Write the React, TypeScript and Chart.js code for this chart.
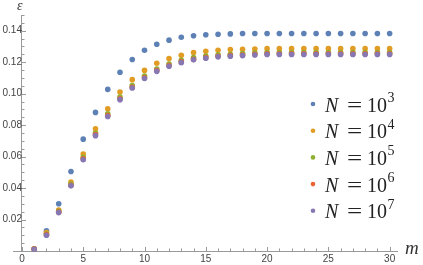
import React, { useEffect, useRef } from 'react';
import { Chart, registerables } from 'chart.js';

Chart.register(...registerables);

// ---- data ----
const mValues = [1, 2, 3, 4, 5, 6, 7, 8, 9, 10, 11, 12, 13, 14, 15, 16, 17, 18, 19, 20, 21, 22, 23, 24, 25, 26, 27, 28, 29, 30];

const epsN1e3 = [0.0014, 0.0129, 0.0300, 0.0505, 0.0711, 0.0881, 0.1027, 0.1136, 0.1217, 0.1276, 0.1314, 0.1340, 0.1359, 0.1368, 0.1374, 0.1378, 0.1380, 0.1382, 0.1382, 0.1382, 0.1382, 0.1382, 0.1382, 0.1382, 0.1382, 0.1382, 0.1382, 0.1382, 0.1382, 0.1382];
const epsN1e4 = [0.0013, 0.0117, 0.0261, 0.0439, 0.0616, 0.0777, 0.0904, 0.1011, 0.1089, 0.1148, 0.1193, 0.1223, 0.1244, 0.1261, 0.1270, 0.1276, 0.1280, 0.1282, 0.1284, 0.1286, 0.1286, 0.1286, 0.1286, 0.1286, 0.1286, 0.1286, 0.1286, 0.1286, 0.1286, 0.1286];
const epsN1e5 = [0.0012, 0.0108, 0.0252, 0.0425, 0.0595, 0.0750, 0.0872, 0.0978, 0.1052, 0.1112, 0.1157, 0.1189, 0.1212, 0.1229, 0.1239, 0.1247, 0.1251, 0.1255, 0.1259, 0.1261, 0.1261, 0.1261, 0.1261, 0.1261, 0.1261, 0.1261, 0.1261, 0.1261, 0.1261, 0.1261];
const epsN1e6 = [0.0012, 0.0104, 0.0247, 0.0418, 0.0586, 0.0740, 0.0861, 0.0967, 0.1041, 0.1101, 0.1147, 0.1179, 0.1202, 0.1219, 0.1229, 0.1238, 0.1242, 0.1246, 0.1250, 0.1253, 0.1253, 0.1253, 0.1253, 0.1253, 0.1253, 0.1253, 0.1253, 0.1253, 0.1253, 0.1253];
const epsN1e7 = [0.0011, 0.0100, 0.0244, 0.0414, 0.0580, 0.0733, 0.0855, 0.0962, 0.1036, 0.1096, 0.1142, 0.1174, 0.1197, 0.1215, 0.1225, 0.1234, 0.1238, 0.1242, 0.1246, 0.1249, 0.1249, 0.1249, 0.1249, 0.1249, 0.1249, 0.1249, 0.1249, 0.1249, 0.1249, 0.1249];

const seriesExponents = ['3', '4', '5', '6', '7'];
const seriesColors = ['#5E81B5', '#E19C24', '#8FB032', '#EB6235', '#8778B3'];
const seriesValues = [epsN1e3, epsN1e4, epsN1e5, epsN1e6, epsN1e7];

const xTickValues = [0, 5, 10, 15, 20, 25, 30];
const yTickValues = [0.02, 0.04, 0.06, 0.08, 0.1, 0.12, 0.14];
const xMinorStep = 1;
const yMinorStep = 0.005;

const xLabel = 'm';
const yLabel = 'ε';

const AXIS_COLOR = '#9a9a9a';
const TICK_LABEL_COLOR = '#444444';

const decorPlugin = {
  id: 'decor',
  afterDraw(chart: any) {
    const { ctx } = chart;
    const xs = chart.scales.x;
    const ys = chart.scales.y;
    const x0 = xs.getPixelForValue(0);
    const y0 = ys.getPixelForValue(0);
    ctx.save();
    ctx.strokeStyle = AXIS_COLOR;
    ctx.lineWidth = 1;
    // x ticks (inward, upward)
    const nx = Math.round(30 / xMinorStep);
    for (let i = 0; i <= nx; i++) {
      const v = i * xMinorStep;
      const px = Math.round(xs.getPixelForValue(v)) + 0.5;
      const len = i % 5 === 0 ? 4 : 2.5;
      ctx.beginPath();
      ctx.moveTo(px, Math.round(y0));
      ctx.lineTo(px, Math.round(y0) - len);
      ctx.stroke();
    }
    // y ticks (inward, to the right)
    const ny = Math.round(0.15 / yMinorStep);
    for (let i = 1; i <= ny; i++) {
      const v = i * yMinorStep;
      const py = Math.round(ys.getPixelForValue(v)) + 0.5;
      const len = i % 4 === 0 ? 4 : 2.5;
      ctx.beginPath();
      ctx.moveTo(Math.round(x0), py);
      ctx.lineTo(Math.round(x0) + len, py);
      ctx.stroke();
    }

    // axis titles
    ctx.fillStyle = '#333';
    ctx.textAlign = 'left';
    ctx.textBaseline = 'alphabetic';
    ctx.font = 'italic 14px "Liberation Serif"';
    ctx.fillText(yLabel, 17, 10);
    ctx.font = 'italic 19px "Liberation Serif"';
    ctx.fillText(xLabel, 405, 254);

    // legend
    const cx = 313;
    for (let i = 0; i < seriesExponents.length; i++) {
      const cy = 104 + i * 26.7;
      ctx.fillStyle = seriesColors[i];
      ctx.beginPath();
      ctx.arc(cx, cy, 2.3, 0, Math.PI * 2);
      ctx.fill();
      ctx.fillStyle = '#222';
      const base = cy + 7.5;
      ctx.textAlign = 'left';
      ctx.font = 'italic 20px "Liberation Serif"';
      ctx.fillText('N', 325, base);
      ctx.font = '20px "Liberation Serif"';
      ctx.save();
      ctx.translate(347, 0);
      ctx.scale(1.35, 1);
      ctx.fillText('=', 0, base);
      ctx.restore();
      ctx.fillText('10', 367, base);
      ctx.font = '14px "Liberation Serif"';
      ctx.fillText(seriesExponents[i], 387.5, cy - 2);
    }
    ctx.restore();
  },
};

export default function App() {
  const ref = useRef<HTMLCanvasElement>(null);
  useEffect(() => {
    document.body.style.margin = '0';
    const datasets = seriesValues.map((vals, i) => ({
      label: 'N = 10^' + seriesExponents[i],
      data: mValues.map((m, j) => ({ x: m, y: vals[j] })),
      backgroundColor: seriesColors[i],
      borderColor: seriesColors[i],
      borderWidth: 0,
      pointRadius: 2.8,
      pointHoverRadius: 2.8,
      showLine: false,
      clip: false as any,
      order: seriesValues.length - i,
    }));
    const chart = new Chart(ref.current!, {
      type: 'scatter',
      data: { datasets },
      plugins: [decorPlugin],
      options: {
        animation: false,
        responsive: false,
        devicePixelRatio: 1,
        layout: { padding: { left: 13, right: 26, top: 15, bottom: 14 } },
        plugins: { legend: { display: false }, tooltip: { enabled: false } },
        scales: {
          x: {
            type: 'linear',
            min: -0.73,
            max: 30.6,
            position: { y: 0 } as any,
            afterBuildTicks: (s: any) => {
              s.ticks = xTickValues.map((v) => ({ value: v }));
            },
            ticks: {
              callback: (v: any) => String(v),
              font: { family: 'Liberation Sans', size: 10 },
              color: TICK_LABEL_COLOR,
              padding: 2,
              maxRotation: 0,
              autoSkip: false,
            },
            grid: { display: false, drawTicks: false },
            border: { display: true, color: AXIS_COLOR, width: 1 },
          },
          y: {
            type: 'linear',
            min: 0,
            max: 0.15,
            position: { x: 0 } as any,
            afterBuildTicks: (s: any) => {
              s.ticks = yTickValues.map((v) => ({ value: v }));
            },
            ticks: {
              callback: (v: any) => Number(v).toFixed(2),
              font: { family: 'Liberation Sans', size: 10 },
              color: TICK_LABEL_COLOR,
              padding: 4,
              autoSkip: false,
            },
            grid: { display: false, drawTicks: false },
            border: { display: true, color: AXIS_COLOR, width: 1 },
          },
        },
      },
    });
    return () => chart.destroy();
  }, []);
  return (
    <div style={{ position: 'absolute', left: 0, top: 0, width: 423, height: 265 }}>
      <canvas ref={ref} width={423} height={265} style={{ display: 'block' }} />
    </div>
  );
}
